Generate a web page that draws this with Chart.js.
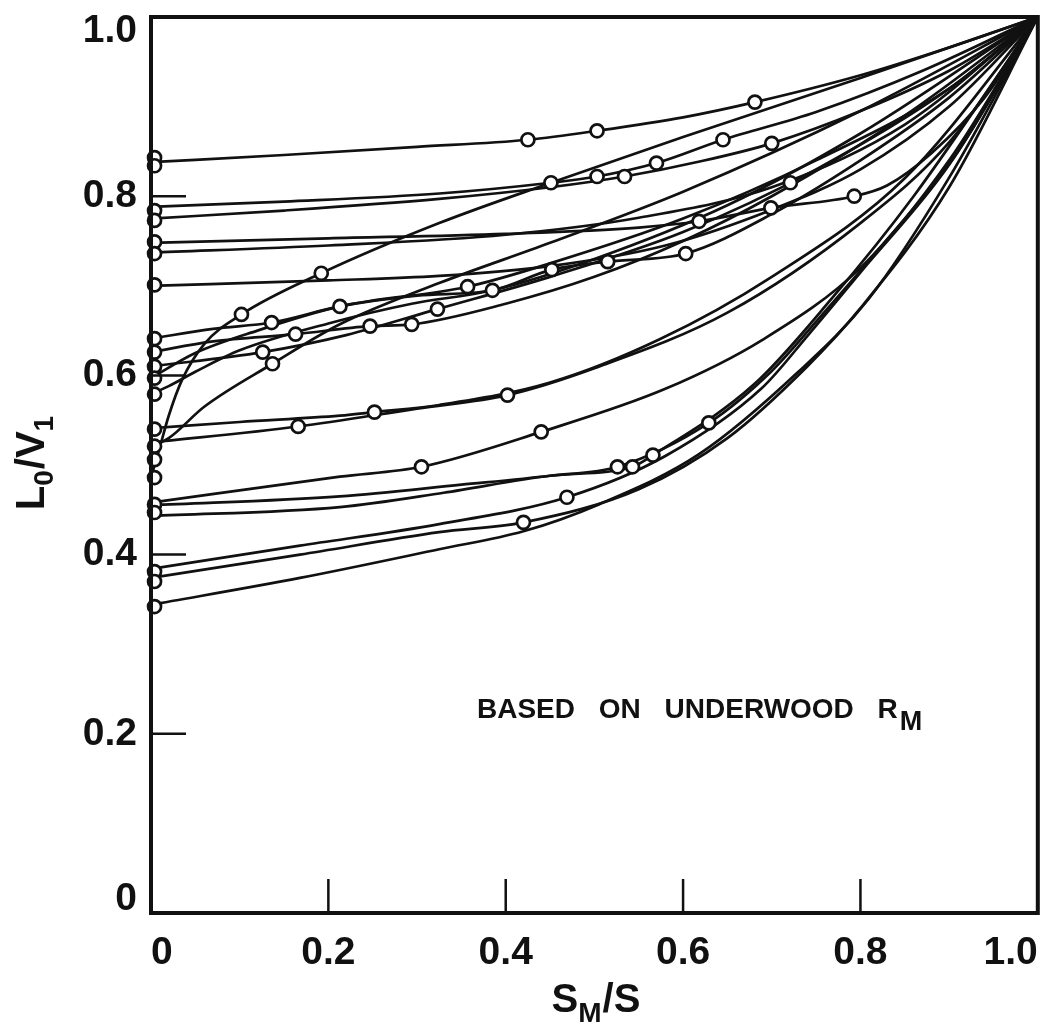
<!DOCTYPE html>
<html>
<head>
<meta charset="utf-8">
<title>L0/V1 against SM/S</title>
<script src="https://cdn.jsdelivr.net/npm/chart.js@4/dist/chart.umd.min.js"></script>
<style>
  html, body { margin: 0; padding: 0; background: #ffffff; }
  canvas { display: block; }
</style>
</head>
<body>
<canvas id="chart" width="1047" height="1029"></canvas>
<script>
// ---- axis ticks ----
const xTickValues = [0, 0.2, 0.4, 0.6, 0.8, 1.0];
const xTickLabels = ['0', '0.2', '0.4', '0.6', '0.8', '1.0'];
const yTickValues = [0, 0.2, 0.4, 0.6, 0.8, 1.0];
const yTickLabels = ['0', '0.2', '0.4', '0.6', '0.8', '1.0'];

// ---- curves: [SM/S, L0/V1] ----
const curveA = [[0,0.838],[0.15,0.846],[0.30,0.855],[0.425,0.863],[0.503,0.873],[0.60,0.888],[0.681,0.905],[0.80,0.935],[0.90,0.966],[1,1]];
const curveB = [[0,0.788],[0.15,0.794],[0.325,0.803],[0.451,0.815],[0.503,0.822],[0.570,0.837],[0.645,0.863],[0.75,0.894],[0.87,0.94],[1,1]];
const curveC = [[0,0.775],[0.15,0.784],[0.325,0.797],[0.45,0.810],[0.534,0.822],[0.62,0.839],[0.700,0.859],[0.80,0.895],[0.90,0.94],[1,1]];
const curveD = [[0,0.748],[0.2,0.753],[0.40,0.758],[0.55,0.765],[0.618,0.772],[0.699,0.787],[0.793,0.800],[0.83,0.812],[0.88,0.848],[0.94,0.91],[1,1]];
const curveE = [[0,0.737],[0.2,0.745],[0.40,0.757],[0.55,0.776],[0.70,0.81],[0.85,0.88],[1,1]];
const curveF = [[0,0.700],[0.2,0.706],[0.325,0.711],[0.45,0.722],[0.58,0.745],[0.70,0.785],[0.80,0.83],[0.90,0.9],[1,1]];
const curveG = [[0,0.486],[0.01,0.52],[0.02,0.555],[0.035,0.595],[0.06,0.635],[0.102,0.668],[0.192,0.714],[0.325,0.77],[0.451,0.815],[0.6,0.866],[0.8,0.932],[1,1]];
const curveH = [[0,0.521],[0.02,0.53],[0.06,0.565],[0.137,0.613],[0.213,0.657],[0.325,0.703],[0.45,0.748],[0.6,0.805],[0.8,0.895],[1,1]];
const curveI = [[0,0.641],[0.07,0.652],[0.136,0.659],[0.213,0.677],[0.30,0.689],[0.385,0.695],[0.452,0.718],[0.515,0.727],[0.603,0.736],[0.70,0.78],[0.80,0.84],[0.90,0.91],[1,1]];
const curveJ = [[0,0.626],[0.07,0.638],[0.163,0.646],[0.247,0.655],[0.294,0.657],[0.40,0.68],[0.50,0.71],[0.60,0.75],[0.70,0.80],[0.85,0.89],[1,1]];
const curveK = [[0,0.610],[0.126,0.626],[0.22,0.645],[0.323,0.674],[0.45,0.71],[0.6,0.76],[0.75,0.83],[0.9,0.92],[1,1]];
const curveL = [[0,0.597],[0.05,0.625],[0.12,0.65],[0.213,0.677],[0.357,0.699],[0.45,0.725],[0.60,0.775],[0.75,0.84],[0.9,0.92],[1,1]];
const curveM = [[0,0.579],[0.02,0.588],[0.05,0.604],[0.1,0.628],[0.2,0.658],[0.294,0.68],[0.385,0.695],[0.5,0.73],[0.65,0.79],[0.8,0.87],[1,1]];
const curveN = [[0,0.541],[0.1,0.548],[0.213,0.555],[0.252,0.559],[0.325,0.567],[0.45,0.592],[0.573,0.64],[0.7,0.71],[0.85,0.82],[1,1]];
const curveO = [[0,0.525],[0.166,0.543],[0.30,0.563],[0.402,0.578],[0.5,0.608],[0.65,0.67],[0.8,0.77],[0.9,0.86],[1,1]];
const curveP = [[0,0.458],[0.213,0.487],[0.305,0.498],[0.440,0.537],[0.58,0.585],[0.69,0.64],[0.8,0.72],[0.9,0.84],[1,1]];
const curveQ = [[0,0.455],[0.213,0.465],[0.35,0.478],[0.45,0.488],[0.526,0.498],[0.629,0.547],[0.70,0.605],[0.75,0.66],[0.82,0.74],[0.91,0.85],[1,1]];
const curveR = [[0,0.443],[0.213,0.453],[0.33,0.469],[0.45,0.488],[0.543,0.498],[0.566,0.511],[0.68,0.59],[0.767,0.685],[0.86,0.80],[1,1]];
const curveS = [[0,0.384],[0.168,0.41],[0.325,0.434],[0.469,0.464],[0.58,0.51],[0.688,0.585],[0.741,0.645],[0.80,0.715],[0.90,0.835],[1,1]];
const curveT = [[0,0.374],[0.168,0.40],[0.325,0.425],[0.420,0.436],[0.55,0.473],[0.65,0.53],[0.74,0.61],[0.80,0.675],[0.90,0.81],[1,1]];
const curveU = [[0,0.344],[0.168,0.374],[0.325,0.406],[0.420,0.426],[0.505,0.456],[0.618,0.512],[0.730,0.604],[0.809,0.685],[0.899,0.819],[1,1]];

const curves = [curveA, curveB, curveC, curveD, curveE, curveF, curveG, curveH, curveI, curveJ, curveK,
                curveL, curveM, curveN, curveO, curveP, curveQ, curveR, curveS, curveT, curveU];

// ---- open circles (measured points) ----
const circlesOnAxis = [[0.004,0.843],[0.004,0.834],[0.004,0.784],[0.004,0.773],[0.004,0.749],[0.004,0.736],
                       [0.004,0.701],[0.004,0.641],[0.004,0.626],[0.004,0.610],[0.004,0.597],[0.004,0.579],
                       [0.004,0.540],[0.004,0.521],[0.004,0.506],[0.004,0.486],[0.004,0.456],[0.004,0.447],
                       [0.004,0.381],[0.004,0.370],[0.004,0.342]];
const circlesInside = [[0.425,0.863],[0.503,0.873],[0.681,0.905],
                       [0.451,0.815],[0.503,0.822],[0.534,0.822],[0.570,0.837],[0.645,0.863],[0.700,0.859],
                       [0.721,0.815],[0.793,0.800],[0.699,0.787],[0.618,0.772],
                       [0.603,0.736],[0.515,0.727],[0.452,0.718],[0.357,0.699],[0.385,0.695],[0.323,0.674],[0.294,0.657],
                       [0.192,0.714],[0.102,0.668],[0.136,0.659],[0.163,0.646],[0.213,0.677],[0.247,0.655],
                       [0.126,0.626],[0.137,0.613],
                       [0.252,0.559],[0.166,0.543],[0.402,0.578],
                       [0.440,0.537],[0.305,0.498],
                       [0.629,0.547],[0.526,0.498],[0.543,0.498],[0.566,0.511],[0.469,0.464],[0.420,0.436]];

const INK = '#111111';

const toPoints = arr => arr.map(p => ({ x: p[0], y: p[1] }));

const datasets = curves.map(c => ({
  data: toPoints(c),
  showLine: true,
  borderColor: INK,
  borderWidth: 2.7,
  pointRadius: 0,
  cubicInterpolationMode: 'monotone',
  fill: false,
  order: 2
}));
datasets.push({
  data: toPoints(circlesOnAxis.concat(circlesInside)),
  showLine: false,
  pointRadius: 6.5,
  pointBorderWidth: 2.7,
  pointBorderColor: INK,
  pointBackgroundColor: '#ffffff',
  clip: false,
  order: 1
});

const FONT = "'Liberation Sans', Arial, sans-serif";

// Frame around the plot and short inward tick marks.
const framePlugin = {
  id: 'frame',
  afterDatasetsDraw(chart) {
    const { ctx, chartArea: a, scales } = chart;
    ctx.save();
    ctx.strokeStyle = INK;
    ctx.lineWidth = 4;
    ctx.strokeRect(a.left, a.top, a.right - a.left, a.bottom - a.top);
    ctx.lineWidth = 2.5;
    ctx.beginPath();
    xTickValues.forEach(v => {
      if (v <= 0 || v >= 1) return;
      const px = scales.x.getPixelForValue(v);
      ctx.moveTo(px, a.bottom);
      ctx.lineTo(px, a.bottom - 34);
    });
    yTickValues.forEach(v => {
      if (v <= 0 || v >= 1) return;
      const py = scales.y.getPixelForValue(v);
      ctx.moveTo(a.left, py);
      ctx.lineTo(a.left + 35, py);
    });
    ctx.stroke();
    ctx.restore();
  }
};

// Text made of runs, some of them set as subscripts.
function drawRuns(ctx, runs, x, y, font, subFont, subDrop) {
  let total = 0;
  runs.forEach(r => { ctx.font = r.sub ? subFont : font; total += ctx.measureText(r.t).width + (r.gap || 0); });
  let cx = x - total / 2;
  runs.forEach(r => {
    ctx.font = r.sub ? subFont : font;
    ctx.fillText(r.t, cx, r.sub ? y + subDrop : y);
    cx += ctx.measureText(r.t).width + (r.gap || 0);
  });
}

const titlePlugin = {
  id: 'titles',
  afterDraw(chart) {
    const { ctx } = chart;
    ctx.save();
    ctx.fillStyle = INK;
    ctx.textBaseline = 'alphabetic';
    ctx.textAlign = 'left';
    const f = "bold 40px " + FONT;
    const fs = "bold 28px " + FONT;

    // vertical axis title
    ctx.save();
    ctx.translate(44, 463);
    ctx.rotate(-Math.PI / 2);
    drawRuns(ctx, [{ t: 'L' }, { t: '0', sub: true, gap: 1 }, { t: '/V' }, { t: '1', sub: true }], 0, 0, f, fs, 9);
    ctx.restore();

    // horizontal axis title
    drawRuns(ctx, [{ t: 'S' }, { t: 'M', sub: true, gap: 1 }, { t: '/S' }], 596, 1012, f, fs, 10);

    // note inside the plot
    ctx.font = "bold 28px " + FONT;
    try { ctx.wordSpacing = '16px'; } catch (e) {}
    const note = 'BASED ON UNDERWOOD R';
    ctx.fillText(note, 477, 718);
    const w = ctx.measureText(note).width;
    ctx.font = "bold 27px " + FONT;
    try { ctx.wordSpacing = '0px'; } catch (e) {}
    ctx.fillText('M', 477 + w + 2, 730);
    ctx.restore();
  }
};

new Chart(document.getElementById('chart'), {
  type: 'scatter',
  data: { datasets },
  options: {
    responsive: false,
    devicePixelRatio: 1,
    animation: false,
    events: [],
    layout: { padding: { left: 0, right: 7, top: 17, bottom: 0 } },
    plugins: { legend: { display: false }, tooltip: { enabled: false } },
    scales: {
      x: {
        type: 'linear',
        min: 0, max: 1,
        afterBuildTicks: s => { s.ticks = xTickValues.map(v => ({ value: v })); },
        afterFit: s => { s.height = 116; s.paddingLeft = 0; s.paddingRight = 0; },
        grid: { display: false, drawTicks: false },
        border: { display: false },
        ticks: {
          align: 'inner',
          padding: 17,
          color: INK,
          font: { family: FONT, size: 39, weight: 'bold' },
          callback: (v, i) => xTickLabels[i]
        }
      },
      y: {
        type: 'linear',
        min: 0, max: 1,
        afterBuildTicks: s => { s.ticks = yTickValues.map(v => ({ value: v })); },
        afterFit: s => { s.width = 151; s.paddingTop = 0; s.paddingBottom = 0; },
        grid: { display: false, drawTicks: false },
        border: { display: false },
        ticks: {
          padding: 14,
          color: INK,
          font: { family: FONT, size: 39, weight: 'bold', lineHeight: 0.72 },
          // end labels sit inside the frame: the top one drops, the bottom one rises
          callback: (v, i) => i === yTickLabels.length - 1 ? ['', yTickLabels[i]]
                           : i === 0 ? [yTickLabels[i], ''] : yTickLabels[i]
        }
      }
    }
  },
  plugins: [framePlugin, titlePlugin]
});
</script>
</body>
</html>
